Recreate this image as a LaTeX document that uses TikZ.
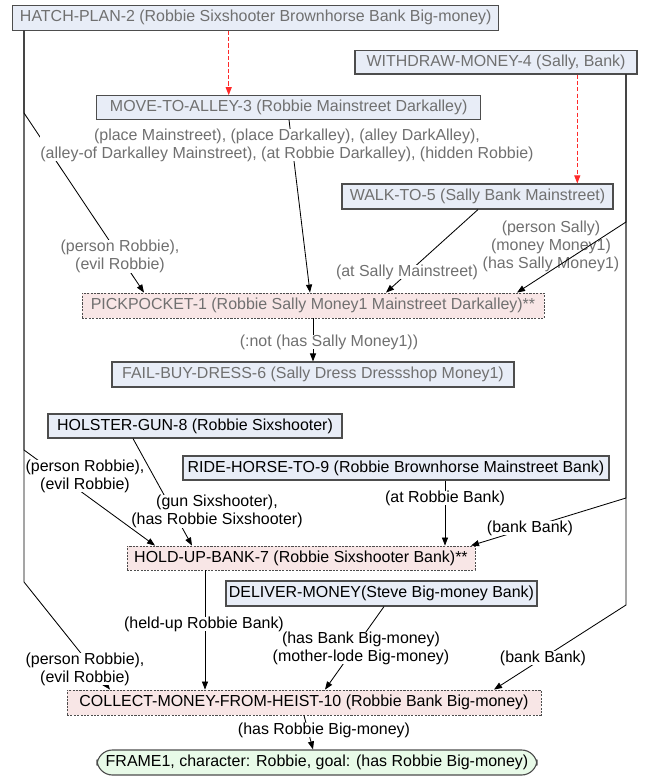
\documentclass[tikz,border=0pt]{standalone}
\usepackage{fontspec}
\setmainfont{Liberation Sans}
\usetikzlibrary{arrows.meta}

\definecolor{boxblue}{HTML}{E8EDF7}
\definecolor{boxpink}{HTML}{F8E6E6}
\definecolor{boxgreen}{HTML}{E8FAE8}
\definecolor{boxline}{HTML}{4D4D4D}
\definecolor{greytext}{HTML}{707070}
\definecolor{planred}{HTML}{FF2A2A}

\begin{document}
\begin{tikzpicture}[x=0.025cm, y=-0.025cm, line width=0.6pt,
    >={Triangle[length=5.7pt,width=4.3pt]},
    font=\fontsize{11.35}{12.8}\selectfont]

    \tikzset{block/.style={%
      draw=boxline,%
      fill=boxblue,%
      line width=0.8pt,%
      rectangle,%
      inner sep=0pt}%
    };

    \tikzset{boxsize/.style 2 args={minimum width=#1*0.025cm, minimum height=#2*0.025cm}};
    \tikzset{heistblock/.style={block, fill=boxpink, line width=0.6pt, dash pattern=on 1.5pt off 0.9pt}};
    \tikzset{goalblock/.style={block, fill=boxgreen, rounded corners=11pt}};
    \tikzset{cond/.style={fill=white, inner sep=0pt, align=center}};
    \tikzset{plan/.style={->, planred, line width=0.7pt, dash pattern=on 3pt off 1.5pt}};

    \useasboundingbox (0,0) rectangle (649,776);

    %%%%%%%%%%%%%%%
    %   actions   %
    %%%%%%%%%%%%%%%
    \path (255.8, 17.7) node [block, boxsize={486}{25}, text=greytext] (hatch) {HATCH-PLAN-2 (Robbie Sixshooter Brownhorse Bank Big-money)};
    \path (496, 62.3) node [block, boxsize={282}{23.5}, text=greytext] (withdraw) {WITHDRAW-MONEY-4 (Sally, Bank)};
    \path (288.7, 107.5) node [block, boxsize={384}{23.5}, text=greytext] (move) {MOVE-TO-ALLEY-3 (Robbie Mainstreet Darkalley)};
    \path (477.5, 196.5) node [block, boxsize={271}{25}, text=greytext] (walk) {WALK-TO-5 (Sally Bank Mainstreet)};
    \path (313, 305.5) node [heistblock, boxsize={462}{25}, text=greytext] (pick) {PICKPOCKET-1 (Robbie Sally Money1 Mainstreet Darkalley)**};
    \path (313, 374.5) node [block, boxsize={402}{25}, text=greytext] (fail) {FAIL-BUY-DRESS-6 (Sally Dress Dressshop Money1)};
    \path (195, 426) node [block, boxsize={294}{24}] (holster) {HOLSTER-GUN-8 (Robbie Sixshooter)};
    \path (396, 468) node [block, boxsize={426}{24}] (ride) {RIDE-HORSE-TO-9 (Robbie Brownhorse Mainstreet Bank)};
    \path (301, 558) node [heistblock, boxsize={348}{24}] (holdup) {HOLD-UP-BANK-7 (Robbie Sixshooter Bank)**};
    \path (381.5, 593.5) node [block, boxsize={311}{25}] (deliver) {DELIVER-MONEY(Steve Big-money Bank)};
    \path (304, 702.5) node [heistblock, boxsize={474}{25}] (collect) {COLLECT-MONEY-FROM-HEIST-10 (Robbie Bank Big-money)};
    \path (317, 762.5) node [goalblock, boxsize={440}{25}] (frame) {FRAME1, character: Robbie, goal: (has Robbie Big-money)};

    %%%%%%%%%%%%%%%
    %   links     %
    %%%%%%%%%%%%%%%
    \draw [plan] (hatch.south -| 228.7,0) -- (move.north -| 228.7,0);
    \draw [plan] (withdraw.south -| 577.3,0) -- (walk.north -| 577.3,0);

    \draw [->] (hatch.south -| 24,0) -- (24,113) -- (pick.north -| 144,0);
    \draw [->] (move.south -| 289,0) -- (pick.north -| 310,0);
    \draw [->] (walk.south -| 478,0) -- (pick.north -| 386,0);
    \draw [->] (pick.south -| 313,0) -- (fail);
    \draw [->] (holster.south -| 133,0) -- (holdup.north -| 192,0);
    \draw [->] (hatch.south -| 24,0) -- (24,450) -- (holdup.north -| 155,0);
    \draw [->] (ride.south -| 445,0) -- (holdup.north -| 445,0);
    \draw [->] (withdraw.south -| 626,0) -- (626,498) -- (holdup.north -| 471,0);
    \draw [->] (holdup.south -| 205,0) -- (collect.north -| 205,0);
    \draw [->] (deliver.south -| 384,0) -- (collect.north -| 325,0);
    \draw [->] (withdraw.south -| 626,0) -- (626,605) -- (collect.north -| 494,0);
    \draw [->] (hatch.south -| 24,0) -- (24,582) -- (collect.north -| 110,0);
    \draw [->] (collect.south -| 304,0) -- (frame.north -| 313,0);

    %%%%%%%%%%%%%%%
    %  conditions %
    %%%%%%%%%%%%%%%
    \path (287, 145) node [cond, text=greytext] (lmove) {(place Mainstreet), (place Darkalley), (alley DarkAlley),\\(alley-of Darkalley Mainstreet), (at Robbie Darkalley), (hidden Robbie)};
    \path (120, 256.5) node [cond, text=greytext] (lpick) {(person Robbie),\\(evil Robbie)};
    \path (407, 272) node [cond, text=greytext] (lwalk) {(at Sally Mainstreet)};
    \path (551, 246.5) node [cond, text=greytext] (lsally) {(person Sally)\\(money Money1)\\(has Sally Money1)};
    \path (329, 342) node [cond, text=greytext] (lfail) {(:not (has Sally Money1))};
    \path (217, 511.5) node [cond] (lgun) {(gun Sixshooter),\\(has Robbie Sixshooter)};
    \path (85, 476) node [cond] (lhold) {(person Robbie),\\(evil Robbie)};
    \path (445, 498) node [cond] (lride) {(at Robbie Bank)};
    \path (530, 528) node [cond] (lbank) {(bank Bank)};
    \path (204, 624) node [cond] (lheld) {(held-up Robbie Bank)};
    \path (361, 648) node [cond] (lloot) {(has Bank Big-money)\\(mother-lode Big-money)};
    \path (85, 669) node [cond] (lcollect) {(person Robbie),\\(evil Robbie)};
    \path (543, 658) node [cond] (lbanktwo) {(bank Bank)};
    \path (324, 730) node [cond] (lgoal) {(has Robbie Big-money)};

    \draw [->] (withdraw.south -| 626,0) -- (626,222) -- (pick.north -| 517,0);

\end{tikzpicture}
\end{document}
